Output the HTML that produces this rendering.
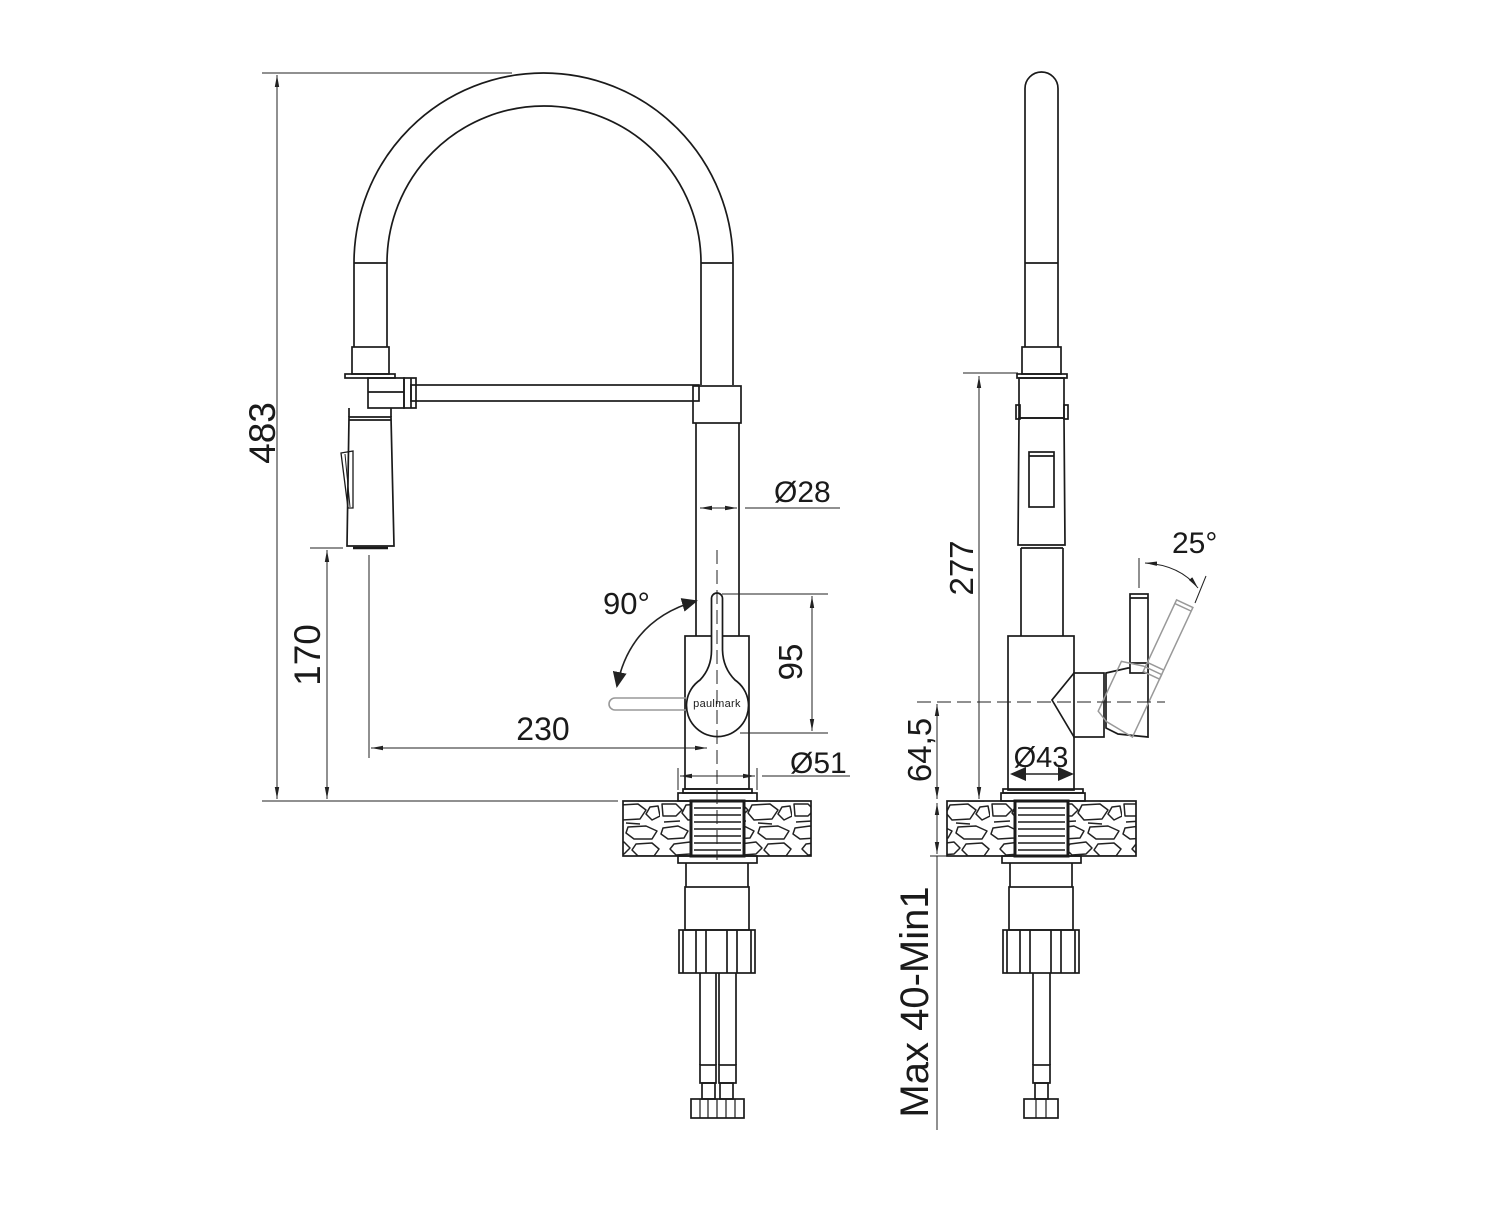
<!DOCTYPE html>
<html><head><meta charset="utf-8"><style>
html,body{margin:0;padding:0;background:#fff}
svg{display:block}
text{font-family:"Liberation Sans","DejaVu Sans",sans-serif;fill:#1a1a1a}
</style></head><body>
<svg width="1504" height="1230" viewBox="0 0 1504 1230" xmlns="http://www.w3.org/2000/svg">
<defs>
<marker id="a" viewBox="0 0 12 6" refX="12" refY="3" markerWidth="12" markerHeight="6" orient="auto-start-reverse" markerUnits="userSpaceOnUse"><path d="M0,0.8 L12,3 L0,5.2 Z" fill="#222"/></marker>
<marker id="b" viewBox="0 0 16 14" refX="14" refY="7" markerWidth="16" markerHeight="14" orient="auto-start-reverse" markerUnits="userSpaceOnUse"><path d="M0,0 L16,7 L0,14 Z" fill="#222"/></marker>
<pattern id="stone" patternUnits="userSpaceOnUse" width="66" height="55">
<g fill="none" stroke="#222" stroke-width="1.5" stroke-linejoin="round">
<polygon points="3,3 18,1 28,6 24,13 8,14 1,9"/>
<polygon points="34,2 52,1 63,6 58,14 40,14 32,8"/>
<polygon points="14,19 30,17 36,23 30,29 16,30 10,24"/>
<polygon points="42,19 58,18 65,24 60,31 44,31 38,25"/>
<polygon points="2,34 16,34 22,40 16,46 3,46"/>
<polygon points="26,35 44,34 52,40 46,49 28,50 22,43"/>
<polygon points="56,37 64,36 66,46 58,50 52,44"/>
<path d="M4,52 L20,51 M32,53 L46,54"/>
</g></pattern>
</defs>
<g fill="none" stroke="#1a1a1a" stroke-width="1.7">
<!-- LEFT VIEW -->
<path d="M354,263 A189.5,190 0 0 1 733,263"/>
<path d="M387,263 A157,157 0 0 1 701,263"/>
<path d="M354,263 H387 M701,263 H733"/>
<path d="M354,263 V347 M387,263 V347 M701,263 V385 M733,263 V385"/>
<rect x="352" y="347" width="37" height="27"/>
<rect x="345" y="374" width="50" height="4"/>
<rect x="368" y="378" width="36" height="30"/>
<path d="M368,392 H404"/>
<rect x="404" y="378" width="12" height="30"/><path d="M411,378 V408"/>
<rect x="411" y="385" width="288" height="16"/>
<rect x="693" y="386" width="48" height="37"/>
<path d="M696,423 V636 M739,423 V636"/>
<path d="M349,408 V417 M391,408 V417"/>
<polygon points="349,417 391,417 394,546 347,546"/>
<path d="M349,420 H391"/>
<path d="M353,548 H388" stroke-width="2.5"/>
<polygon points="341,453 353,451 353,508 348,508" stroke-width="1.3"/>
<path d="M345,454 L350,507" stroke-width="1"/>
<!-- body -->
<rect x="685" y="636" width="64" height="153"/>
<path d="M717,593 a5.5,5.5 0 0 1 5.5,5.5 V650 Q723,668 735,680 A31,31 0 1 1 700,680 Q711.5,668 711.5,650 V598.5 A5.5,5.5 0 0 1 717,593 Z" fill="#fff"/>
<path d="M686,698 H615 a6,6 0 0 0 0,12 H686" stroke="#999" stroke-width="1.6"/>
<rect x="683" y="789" width="69" height="4"/>
<rect x="678" y="793" width="79" height="8"/>
<rect x="623" y="801" width="188" height="55" fill="url(#stone)"/>
<rect x="691" y="801" width="53" height="55" fill="#fff" stroke-width="3"/>
<path d="M694,808 H741 M694,815 H741 M694,822 H741 M694,829 H741 M694,836 H741 M694,843 H741 M694,850 H741" stroke-width="1.5"/>
<rect x="678" y="856" width="79" height="7"/>
<path d="M686,863 V887 M748,863 V887"/>
<rect x="685" y="887" width="64" height="43"/>
<rect x="679" y="930" width="76" height="43"/>
<path d="M683,930 V973 M751,930 V973 M696,930 V973 M706,930 V973 M727,930 V973 M737,930 V973"/>
<path d="M700,973 V1065 M716,973 V1065 M719,973 V1065 M736,973 V1065"/>
<rect x="700" y="1065" width="16" height="18"/><rect x="719" y="1065" width="17" height="18"/>
<rect x="702" y="1083" width="13" height="16"/><rect x="720" y="1083" width="13" height="16"/>
<rect x="691" y="1099" width="53" height="19"/>
<path d="M700,1099 V1118 M708,1099 V1118 M717,1099 V1118 M726,1099 V1118 M735,1099 V1118" stroke-width="1.2"/>

<!-- RIGHT VIEW -->
<path d="M1025,347 V88.5 A16.5,16.5 0 0 1 1058,88.5 V347 M1025,263 H1058"/>
<rect x="1022" y="347" width="39" height="27"/>
<rect x="1017" y="374" width="50" height="4"/>
<rect x="1019" y="378" width="45" height="40"/>
<rect x="1016" y="405" width="4" height="14"/><rect x="1064" y="405" width="4" height="14"/>
<polygon points="1019,418 1064,418 1065,545 1018,545"/>
<rect x="1029" y="452" width="25" height="55"/><path d="M1029,456 H1054"/>
<path d="M1021,548 V636 M1063,548 V636 M1021,548 H1063"/>
<rect x="1008" y="636" width="66" height="154"/>
<path d="M1074,673 L1052,700 L1074,737" fill="#fff"/>
<rect x="1074" y="673" width="30" height="64" fill="#fff"/>
<polygon points="1106,673 1128,668 1148,668 1148,737 1118,734 1106,728" fill="#fff"/>
<rect x="1130" y="594" width="18" height="79" fill="#fff"/>
<path d="M1130,598 H1148 M1130,663 H1148"/>
<g transform="rotate(25 1140 702)" stroke="#999" stroke-width="1.5">
<rect x="1130" y="594" width="18" height="79"/><path d="M1130,598 H1148 M1130,663 H1148"/>
<polygon points="1106,673 1128,668 1148,668 1148,737 1118,734 1106,728"/>
</g>
<rect x="1003" y="789" width="80" height="4"/>
<rect x="1001" y="793" width="84" height="8"/>
<rect x="947" y="801" width="189" height="55" fill="url(#stone)"/>
<rect x="1015" y="801" width="53" height="55" fill="#fff" stroke-width="3"/>
<path d="M1018,808 H1065 M1018,815 H1065 M1018,822 H1065 M1018,829 H1065 M1018,836 H1065 M1018,843 H1065 M1018,850 H1065" stroke-width="1.5"/>
<rect x="1002" y="856" width="79" height="7"/>
<path d="M1010,863 V887 M1072,863 V887"/>
<rect x="1009" y="887" width="64" height="43"/>
<rect x="1003" y="930" width="76" height="43"/>
<path d="M1007,930 V973 M1075,930 V973 M1020,930 V973 M1030,930 V973 M1051,930 V973 M1061,930 V973"/>
<path d="M1033,973 V1065 M1050,973 V1065"/>
<rect x="1033" y="1065" width="17" height="18"/>
<rect x="1035" y="1083" width="13" height="16"/>
<rect x="1024" y="1099" width="34" height="19"/>
<path d="M1036,1099 V1118 M1046,1099 V1118" stroke-width="1.2"/>
</g>

<!-- DIMENSIONS -->
<g fill="none" stroke="#222" stroke-width="1">
<path d="M262,73 H512 M262,801 H618"/>
<path d="M277,75 V799" marker-start="url(#a)" marker-end="url(#a)"/>
<path d="M310,548 H343"/>
<path d="M327,550 V799" marker-start="url(#a)" marker-end="url(#a)"/>
<path d="M369,555 V758"/>
<path d="M371,748 H707" marker-start="url(#a)" marker-end="url(#a)"/>
<path d="M700,508 H737" marker-start="url(#a)" marker-end="url(#a)"/>
<path d="M745,508 H840"/>
<path d="M722,594 H828 M740,733 H828"/>
<path d="M812,596 V731" marker-start="url(#a)" marker-end="url(#a)"/>
<path d="M678,768 V790 M757,768 V790"/>
<path d="M680,776 H755" marker-start="url(#a)" marker-end="url(#a)"/>
<path d="M762,776 H850"/>
<path d="M717,550 V860" stroke-dasharray="14,6"/>
<path d="M696,601 Q630,620 617,686" stroke-width="1.6" marker-start="url(#b)" marker-end="url(#b)"/>
<!-- right dims -->
<path d="M963,373 H1018"/>
<path d="M979,376 V799" marker-start="url(#a)" marker-end="url(#a)"/>
<path d="M917,702 H1165" stroke-dasharray="14,6"/>
<path d="M937,704 V799" marker-start="url(#a)" marker-end="url(#a)"/>
<path d="M937,803 V854" marker-start="url(#a)" marker-end="url(#a)"/>
<path d="M930,856 H947 M937,856 V1130"/>
<path d="M1012,774 H1072" stroke-width="1.6" marker-start="url(#b)" marker-end="url(#b)"/>
<path d="M1139,558 V588"/>
<path d="M1145,563 Q1180,565 1198,588" marker-start="url(#a)" marker-end="url(#a)"/>
<path d="M1206,576 L1195,603"/>
</g>

<!-- TEXT -->
<text x="0" y="0" font-size="37" text-anchor="middle" transform="translate(275,433) rotate(-90)">483</text>
<text x="0" y="0" font-size="37" text-anchor="middle" transform="translate(320,655) rotate(-90)">170</text>
<text x="543" y="740" font-size="32" text-anchor="middle">230</text>
<text x="774" y="502" font-size="30">Ø28</text>
<text x="0" y="0" font-size="33" text-anchor="middle" transform="translate(802,662) rotate(-90)">95</text>
<text x="603" y="614" font-size="31">90°</text>
<text x="790" y="773" font-size="30">Ø51</text>
<text x="717" y="707" font-size="11" text-anchor="middle" letter-spacing="0.3">paulmark</text>
<text x="0" y="0" font-size="33" text-anchor="middle" transform="translate(973,568) rotate(-90)">277</text>
<text x="0" y="0" font-size="33" text-anchor="middle" transform="translate(931,750) rotate(-90)">64,5</text>
<text x="1041" y="767" font-size="29" text-anchor="middle">Ø43</text>
<text x="1172" y="553" font-size="30">25°</text>
<text x="0" y="0" font-size="40" text-anchor="middle" transform="translate(928,1002) rotate(-90)">Max 40-Min1</text>
</svg>
</body></html>
